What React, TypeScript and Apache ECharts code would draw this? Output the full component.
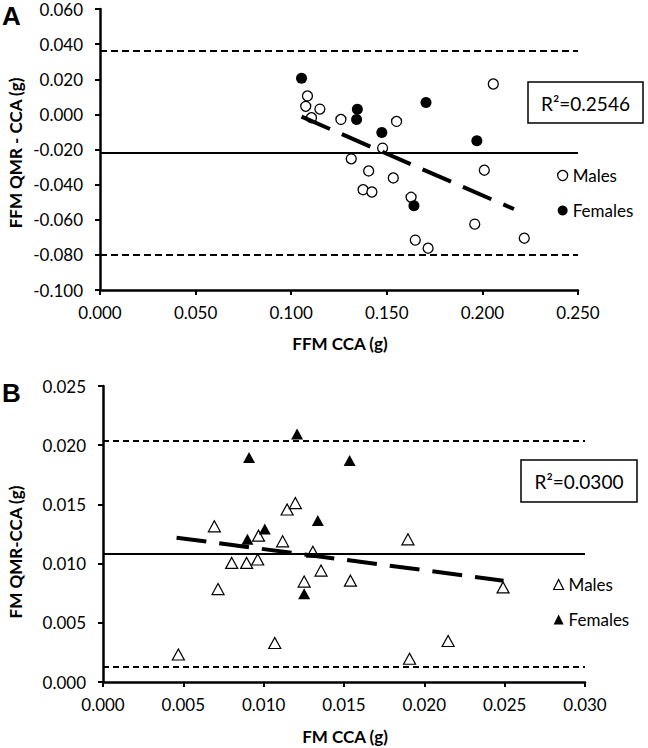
import React, { useEffect, useRef } from "react";
import * as echarts from "echarts";

// ---------- Panel A data (FFM) ----------
const maleAX = [0.1085, 0.1076, 0.1150, 0.1106, 0.1260, 0.1551, 0.1478, 0.1314, 0.1405, 0.1534, 0.1376, 0.1422, 0.1627, 0.1649, 0.1716, 0.2057, 0.2010, 0.1960, 0.2219];
const maleAY = [0.0105, 0.0046, 0.0030, -0.0019, -0.0029, -0.0040, -0.0192, -0.0253, -0.0322, -0.0362, -0.0429, -0.0442, -0.0472, -0.0716, -0.0762, 0.0173, -0.0318, -0.0625, -0.0705];
const femaleAX = [0.1054, 0.1346, 0.1342, 0.1474, 0.1705, 0.1971, 0.1642];
const femaleAY = [0.0206, 0.0029, -0.0029, -0.0103, 0.0067, -0.0150, -0.0520];
const trendAX = [0.1054, 0.2165];
const trendAY = [-0.0013, -0.0539];
const limitsA = [0.0362, -0.0800]; // upper / lower limits of agreement
const meanA = -0.0221;
const r2A = "R²=0.2546";

// ---------- Panel B data (FM) ----------
const maleBX = [0.00693, 0.01146, 0.01197, 0.00968, 0.01118, 0.01898, 0.01306, 0.00801, 0.00894, 0.00963, 0.01357, 0.01252, 0.0154, 0.00716, 0.0249, 0.00469, 0.01069, 0.02148, 0.01908];
const maleBY = [0.01315, 0.01457, 0.01511, 0.01236, 0.01188, 0.01205, 0.01100, 0.01006, 0.01006, 0.01035, 0.00941, 0.00848, 0.00856, 0.00785, 0.00799, 0.00232, 0.00329, 0.00346, 0.00196];
const femaleBX = [0.01208, 0.00909, 0.01535, 0.01337, 0.01007, 0.00899, 0.01252];
const femaleBY = [0.02095, 0.01896, 0.01871, 0.01363, 0.01292, 0.01205, 0.00746];
const trendBX = [0.00458, 0.02493];
const trendBY = [0.01219, 0.00856];
const limitsB = [0.02038, 0.00130];
const meanB = 0.01083;
const r2B = "R²=0.0300";

// ---------- axes ----------
const xTicksA = { min: 0, max: 0.25, interval: 0.05 };
const yTicksA = { min: -0.1, max: 0.06, interval: 0.02 };
const xTicksB = { min: 0, max: 0.03, interval: 0.005 };
const yTicksB = { min: 0, max: 0.025, interval: 0.005 };

const zip = (xs: number[], ys: number[]) => xs.map((x, i) => [x, ys[i]]);
const fmt = (v: number) => (Math.abs(v) < 1e-9 ? 0 : v).toFixed(3);

const FONT = "Lato, 'Open Sans', sans-serif";

export default function App() {
  const ref = useRef<HTMLDivElement>(null);
  useEffect(() => {
    if (!ref.current) return;
    const chart = echarts.init(ref.current, undefined, { renderer: "svg" });

    const axisCommon = (t: { min: number; max: number; interval: number }, isY: boolean) => ({
      type: "value",
      min: t.min,
      max: t.max,
      interval: t.interval,
      splitLine: { show: false },
      axisLine: { show: true, onZero: false, lineStyle: { color: "#000", width: 2.5 } },
      axisTick: { show: true, length: 5, lineStyle: { color: "#000", width: 2 } },
      axisLabel: {
        fontFamily: FONT,
        fontSize: 17,
        color: "#000",
        margin: isY ? 17 : 14,
        formatter: fmt,
      },
    });

    const refLines = (limits: number[], mean: number, dash: number[], w: number) => ({
      silent: true,
      precision: 6,
      symbol: ["none", "none"],
      label: { show: false },
      emphasis: { disabled: true },
      animation: false,
      data: [
        { yAxis: limits[0], lineStyle: { type: dash, width: w, color: "#000" } },
        { yAxis: mean, lineStyle: { type: "solid", width: 2, color: "#000" } },
        { yAxis: limits[1], lineStyle: { type: dash, width: w, color: "#000" } },
      ],
    });

    const titleStyle = { fontFamily: FONT, fontWeight: "bold", fontSize: 17, fill: "#000", textAlign: "center", textVerticalAlign: "middle" };

    const option: any = {
      animation: false,
      grid: [
        { left: 100, top: 9, width: 478, height: 281 },
        { left: 103, top: 386, width: 482, height: 296 },
      ],
      xAxis: [
        { ...axisCommon(xTicksA, false), gridIndex: 0 },
        { ...axisCommon(xTicksB, false), gridIndex: 1 },
      ],
      yAxis: [
        { ...axisCommon(yTicksA, true), gridIndex: 0 },
        { ...axisCommon(yTicksB, true), gridIndex: 1 },
      ],
      legend: [
        {
          orient: "vertical",
          left: 557,
          top: 167,
          padding: 0,
          itemWidth: 10,
          itemHeight: 10,
          itemGap: 18,
          selectedMode: false,
          textStyle: { fontFamily: FONT, fontSize: 17, color: "#000" },
          data: [
            { name: "Males", icon: "circle", itemStyle: { color: "#fff", borderColor: "#000", borderWidth: 1.3 } },
            { name: "Females", icon: "circle", itemStyle: { color: "#000", borderColor: "#000", borderWidth: 0 } },
          ],
        },
        {
          orient: "vertical",
          left: 553,
          top: 576,
          padding: 0,
          itemWidth: 10,
          itemHeight: 10,
          itemGap: 18,
          selectedMode: false,
          textStyle: { fontFamily: FONT, fontSize: 17, color: "#000" },
          data: [
            { name: "Males", icon: "triangle", itemStyle: { color: "#fff", borderColor: "#000", borderWidth: 1.2 } },
            { name: "Females", icon: "triangle", itemStyle: { color: "#000", borderColor: "#000", borderWidth: 0 } },
          ],
        },
      ],
      series: [
        // Panel A
        {
          name: "Males",
          type: "scatter",
          xAxisIndex: 0,
          yAxisIndex: 0,
          symbol: "circle",
          symbolSize: 10,
          z: 3,
          itemStyle: { color: "#fff", borderColor: "#000", borderWidth: 1.3, opacity: 1 },
          data: zip(maleAX, maleAY),
          markLine: refLines(limitsA, meanA, [7, 4], 2),
        },
        {
          name: "Females",
          type: "scatter",
          xAxisIndex: 0,
          yAxisIndex: 0,
          symbol: "circle",
          symbolSize: 11,
          z: 3,
          itemStyle: { color: "#000", opacity: 1 },
          data: zip(femaleAX, femaleAY),
        },
        {
          name: "TrendA",
          type: "line",
          xAxisIndex: 0,
          yAxisIndex: 0,
          showSymbol: false,
          symbol: "none",
          silent: true,
          z: 4,
          lineStyle: { color: "#000", width: 4, type: [31, 13], cap: "butt" },
          data: zip(trendAX, trendAY),
        },
        // Panel B
        {
          name: "Males",
          type: "scatter",
          xAxisIndex: 1,
          yAxisIndex: 1,
          symbol: "triangle",
          symbolSize: [12, 11],
          z: 3,
          itemStyle: { color: "#fff", borderColor: "#000", borderWidth: 1.2, opacity: 1 },
          data: zip(maleBX, maleBY),
          markLine: refLines(limitsB, meanB, [6, 4], 1.8),
        },
        {
          name: "Females",
          type: "scatter",
          xAxisIndex: 1,
          yAxisIndex: 1,
          symbol: "triangle",
          symbolSize: [12, 11],
          z: 3,
          itemStyle: { color: "#000", opacity: 1 },
          data: zip(femaleBX, femaleBY),
        },
        {
          name: "TrendB",
          type: "line",
          xAxisIndex: 1,
          yAxisIndex: 1,
          showSymbol: false,
          symbol: "none",
          silent: true,
          z: 4,
          lineStyle: { color: "#000", width: 4, type: [30, 13], cap: "butt" },
          data: zip(trendBX, trendBY),
        },
      ],
      graphic: [
        { type: "text", x: 2, y: 16, style: { text: "A", fontFamily: "'Liberation Sans', Arial, sans-serif", fontWeight: "bold", fontSize: 26, fill: "#000", textAlign: "left", textVerticalAlign: "middle" } },
        { type: "text", x: 2, y: 393, style: { text: "B", fontFamily: "'Liberation Sans', Arial, sans-serif", fontWeight: "bold", fontSize: 26, fill: "#000", textAlign: "left", textVerticalAlign: "middle" } },
        { type: "text", x: 340, y: 343, style: { ...titleStyle, text: "FFM CCA (g)" } },
        { type: "text", x: 345, y: 736, style: { ...titleStyle, text: "FM CCA (g)" } },
        { type: "text", x: 15, y: 153, rotation: Math.PI / 2, style: { ...titleStyle, text: "FFM QMR - CCA (g)" } },
        { type: "text", x: 15, y: 552, rotation: Math.PI / 2, style: { ...titleStyle, text: "FM QMR-CCA (g)" } },
        { type: "rect", shape: { x: 528, y: 82, width: 115, height: 41 }, style: { fill: "#fff", stroke: "#000", lineWidth: 1.5 } },
        { type: "text", x: 585.5, y: 103, style: { text: r2A, fontFamily: FONT, fontSize: 19, fill: "#000", textAlign: "center", textVerticalAlign: "middle" } },
        { type: "rect", shape: { x: 521, y: 460, width: 116, height: 42 }, style: { fill: "#fff", stroke: "#000", lineWidth: 1.5 } },
        { type: "text", x: 579, y: 481.5, style: { text: r2B, fontFamily: FONT, fontSize: 19, fill: "#000", textAlign: "center", textVerticalAlign: "middle" } },
      ],
    };

    chart.setOption(option);
    return () => chart.dispose();
  }, []);

  return <div ref={ref} style={{ width: 648, height: 748, position: "absolute", left: 0, top: 0, background: "#fff" }} />;
}
